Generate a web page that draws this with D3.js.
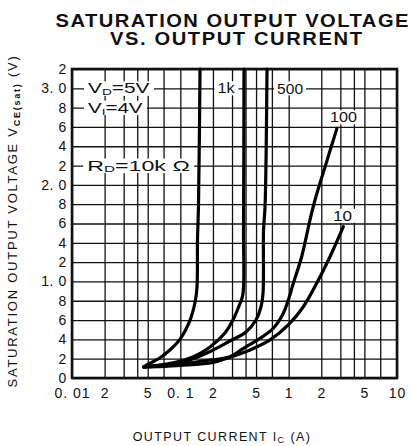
<!DOCTYPE html>
<html><head><meta charset="utf-8">
<script src="https://cdn.jsdelivr.net/npm/d3@7"></script>
<style>
html,body{margin:0;padding:0;background:#fff;}
svg{display:block;}
text{font-family:"Liberation Sans",Arial,sans-serif;fill:#111;}
</style></head>
<body>
<script>
// ---- data ----
const xTickVals   = [0.01,0.02,0.05,0.1,0.2,0.5,1,2,5,10];
const xTickLabels = ["0. 01","2","5","0. 1","2","5","1","2","5","10"];
const xGridVals   = [0.01,0.02,0.03,0.04,0.05,0.07,0.1,0.2,0.3,0.4,0.5,0.7,1,2,3,4,5,7,10];
const yTickVals   = [0,0.2,0.4,0.6,0.8,1.0,1.2,1.4,1.6,1.8,2.0,2.2,2.4,2.6,2.8,3.0,3.2];
const yTickLabels = ["0","2","4","6","8","1. 0","2","4","6","8","2. 0","2","4","6","8","3. 0","2"];

const curveNames = ["10k","1k","500","100","10"];
const i10k = [0.046,0.049,0.065,0.080,0.099,0.123,0.137,0.1425,0.144,0.147,0.152];
const v10k = [0.115,0.135,0.21,0.29,0.40,0.60,0.79,0.94,1.43,1.77,3.2];
const i1k  = [0.046,0.058,0.086,0.131,0.188,0.258,0.306,0.345,0.377,0.383,0.387];
const v1k  = [0.115,0.128,0.158,0.217,0.321,0.466,0.60,0.735,0.86,1.53,3.2];
const i500 = [0.046,0.065,0.106,0.176,0.287,0.404,0.499,0.555,0.580,0.586,0.605,0.631];
const v500 = [0.115,0.125,0.166,0.259,0.383,0.476,0.60,0.735,0.88,1.53,1.77,3.2];
const i100 = [0.046,0.07,0.1,0.188,0.287,0.382,0.544,0.722,0.893,0.993,1.104,1.318,1.573,1.75,2.2,2.79];
const v100 = [0.115,0.125,0.145,0.186,0.221,0.307,0.411,0.515,0.67,0.808,0.981,1.256,1.636,1.843,2.21,2.585];
const i10  = [0.046,0.07,0.1,0.2,0.287,0.44,0.673,0.992,1.366,1.814,2.407,3.196];
const v10  = [0.115,0.12,0.13,0.16,0.215,0.29,0.394,0.549,0.738,0.981,1.256,1.567];

const noteTexts = ["1k","500","100","10"];
const noteI     = [0.264,1.03,3.21,3.14];
const noteV     = [3.0,3.0,2.7,1.68];

// ---- layout ----
const W = 413, H = 446;
const L = 72, R = 397, T = 69, B = 378;

const svg = d3.select("body").append("svg").attr("width",W).attr("height",H);

const x = d3.scaleLog().domain([0.01,10]).range([L,R]);
const y = d3.scaleLinear().domain([0,3.2]).range([B,T]);

// grid (vertical)
svg.append("g").attr("transform",`translate(0,${B})`)
  .call(d3.axisBottom(x).tickValues(xGridVals).tickSize(-(B-T)).tickFormat(""))
  .call(g=>g.select(".domain").remove())
  .call(g=>g.selectAll("line").attr("stroke","#111").attr("stroke-width",1.3));
// grid (horizontal) + labels
svg.append("g").attr("transform",`translate(${L},0)`)
  .call(d3.axisLeft(y).tickValues(yTickVals).tickSize(-(R-L)).tickPadding(5)
        .tickFormat((d,i)=>yTickLabels[i]))
  .call(g=>g.select(".domain").remove())
  .call(g=>g.selectAll("line").attr("stroke","#111").attr("stroke-width",1.3))
  .call(g=>g.selectAll("text").attr("font-size",14).attr("letter-spacing","0.6px")
        .attr("font-family","Liberation Sans, Arial, sans-serif").attr("fill","#111"));
// x tick labels
svg.append("g").attr("transform",`translate(0,${B})`)
  .call(d3.axisBottom(x).tickValues(xTickVals).tickSize(0).tickPadding(10)
        .tickFormat((d,i)=>xTickLabels[i]))
  .call(g=>g.select(".domain").remove())
  .call(g=>g.selectAll("text").attr("font-size",14).attr("letter-spacing","1px")
        .attr("font-family","Liberation Sans, Arial, sans-serif").attr("fill","#111"));

// frame
svg.append("rect").attr("x",L).attr("y",T).attr("width",R-L).attr("height",B-T)
  .attr("fill","none").attr("stroke","#111").attr("stroke-width",2.6);

// label helper with white backing; text is widened horizontally to a target length
function boxedLabel(px, py, anchor, len, build, padX){
  const g = svg.append("g");
  const t = g.append("text").attr("x",0).attr("y",0).attr("text-anchor",anchor)
    .attr("font-size",14.5).attr("dominant-baseline","central");
  build(t);
  const bb = t.node().getBBox();
  const sx = len / bb.width;
  g.attr("transform",`translate(${px},${py}) scale(${sx},1)`);
  g.insert("rect","text").attr("x",bb.x-padX/sx).attr("y",bb.y+1)
    .attr("width",bb.width+2*padX/sx).attr("height",bb.height-2).attr("fill","#fff");
}
function sub(t, main, s, rest){
  t.append("tspan").text(main);
  t.append("tspan").attr("font-size",9.5).attr("dy",3).text(s);
  t.append("tspan").attr("dy",-3).text(rest);
}
boxedLabel(x(0.01405), y(3.0), "start", 62, t=>sub(t,"V","D","=5V"), 4);
boxedLabel(x(0.01405), y(2.8), "start", 55, t=>sub(t,"V","I","=4V"), 4);
boxedLabel(x(0.0138),  y(2.2), "start", 103, t=>sub(t,"R","D","=10k Ω"), 4);
const noteLens = [18,26,27,19];
noteTexts.forEach((s,i)=>{
  boxedLabel(x(noteI[i]), y(noteV[i]), "middle", noteLens[i], t=>t.text(s), 3);
});

// curves
const seriesI = [i10k,i1k,i500,i100,i10];
const seriesV = [v10k,v1k,v500,v100,v10];
const line = d3.line().x(d=>x(d[0])).y(d=>y(d[1])).curve(d3.curveCatmullRom.alpha(0.5));
curveNames.forEach((n,k)=>{
  const pts = seriesI[k].map((v,j)=>[v,seriesV[k][j]]);
  svg.append("path").attr("d",line(pts)).attr("fill","none")
    .attr("stroke","#000").attr("stroke-width",3.2).attr("stroke-linecap","round");
});

// titles
const t1 = svg.append("g").attr("transform","translate(232,27) scale(1.12,1)");
t1.append("text").attr("text-anchor","middle")
  .attr("font-weight","bold").attr("font-size",18).attr("textLength",353/1.12)
  .attr("lengthAdjust","spacing").text("SATURATION OUTPUT VOLTAGE");
const t2 = svg.append("g").attr("transform","translate(236,45) scale(1.12,1)");
t2.append("text").attr("text-anchor","middle")
  .attr("font-weight","bold").attr("font-size",18).attr("textLength",252/1.12)
  .attr("lengthAdjust","spacing").text("VS. OUTPUT CURRENT");

// x axis title
const xt = svg.append("text").attr("x",222).attr("y",441).attr("text-anchor","middle")
  .attr("font-size",12.5).attr("letter-spacing","1.4px").attr("fill","#222");
xt.append("tspan").text("OUTPUT CURRENT I");
xt.append("tspan").attr("font-size",9).attr("dy",2).text("C");
xt.append("tspan").attr("dy",-2).text(" (A)");

// y axis title
const yt = svg.append("text").attr("transform","translate(17,221) rotate(-90)")
  .attr("text-anchor","middle").attr("font-size",13).attr("letter-spacing","1.75px").attr("fill","#222");
yt.append("tspan").text("SATURATION OUTPUT VOLTAGE V");
yt.append("tspan").attr("font-size",9).attr("font-weight","bold").attr("dy",3).text("CE(sat)");
yt.append("tspan").attr("dy",-3).text(" (V)");
</script>
</body></html>
